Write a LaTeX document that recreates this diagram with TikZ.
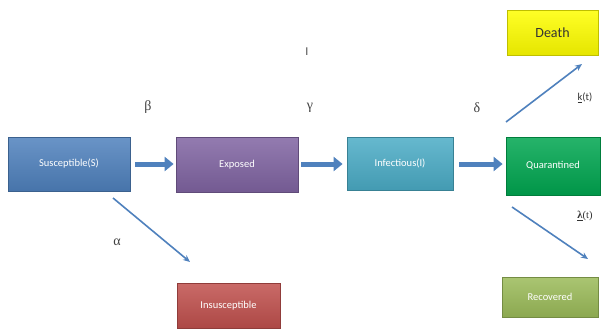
\documentclass[tikz,border=0pt]{standalone}
\usepackage{fontspec}
\setmainfont{Carlito}
\newfontfamily\grk{Liberation Serif}
\usetikzlibrary{arrows.meta}
\definecolor{cS}{RGB}{79,129,189}
\definecolor{cE}{RGB}{128,100,162}
\definecolor{cI}{RGB}{75,172,198}
\definecolor{cQ}{RGB}{0,166,80}
\definecolor{cD}{RGB}{255,255,0}
\definecolor{cR}{RGB}{155,187,89}
\definecolor{cN}{RGB}{192,80,77}
\definecolor{arr}{RGB}{79,129,189}
\tikzset{
  box/.style={draw=#1!75!black, line width=0.8pt, top color=#1!85!white, bottom color=#1!90!black, text=white, font=\fontsize{10.5}{11}\selectfont, inner sep=0pt},
  fat/.style={draw=arr, line width=5pt, -{Triangle[length=9pt,width=14pt]}},
  thin/.style={draw=arr, line width=1.6pt, -{Stealth[length=7pt,width=6pt]}},
  lab/.style={font=\grk\fontsize{14}{15}\selectfont, text=black!75}
}
\begin{document}
\begin{tikzpicture}[x=1pt,y=-1pt]
\useasboundingbox (0,0) rectangle (602,332);
\fill[white] (0,0) rectangle (602,332);
\node[box=cS, minimum width=122pt, minimum height=54pt] (S) at (69,164) {Susceptible(S)};
\node[box=cE, minimum width=122pt, minimum height=55pt] (E) at (237,164.5) {Exposed};
\node[box=cI, minimum width=106pt, minimum height=53pt] (I) at (400,163.5) {Infectious(I)};
\node[box=cQ, minimum width=94pt, minimum height=58pt] (Q) at (553,166) {Quarantined};
\node[box=cD, text=black!80, font=\fontsize{14}{15}\selectfont, minimum width=91pt, minimum height=45pt] (D) at (552.5,32.5) {Death};
\node[box=cR, minimum width=96pt, minimum height=40pt] (R) at (550,297) {Recovered};
\node[box=cN, minimum width=103pt, minimum height=45pt] (N) at (228.5,305.5) {Insusceptible};
\coordinate (s1) at (113,198);
\coordinate (n1) at (190,262);
\coordinate (q1) at (506,122);
\coordinate (d1) at (582,64);
\coordinate (q2) at (512,207);
\coordinate (r1) at (588,259);
\draw[fat] ([xshift=5pt]S.east) -- ([xshift=-2pt]E.west |- S.east);
\draw[fat] ([xshift=3pt]E.east |- S.east) -- ([xshift=-4pt]I.west |- S.east);
\draw[fat] ([xshift=6pt]I.east |- S.east) -- ([xshift=-3pt]Q.west |- S.east);
\draw[thin] (s1) -- (n1);
\draw[thin] (q1) -- (d1);
\draw[thin] (q2) -- (r1);
\node[lab] (lb) at (148,107) {β};
\node[lab] (lg) at (310,108) {γ};
\node[lab] (ld) at (477,108) {δ};
\node[lab] (la) at (117,242) {α};
\node[font=\fontsize{12}{13}\selectfont, text=black!70] (lI) at (307,52) {I};
\node[font=\fontsize{10.5}{11}\selectfont, text=black!80] (lk) at (585,98) {\underline{k}(t)};
\node[font=\grk\fontsize{10.5}{11}\selectfont, text=black!80] (ll) at (585,216) {\underline{\textbf{λ}}(t)};
\end{tikzpicture}
\end{document}
